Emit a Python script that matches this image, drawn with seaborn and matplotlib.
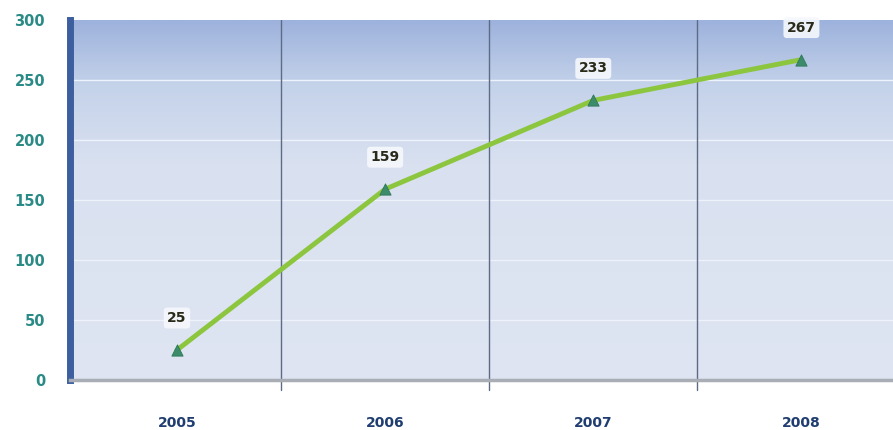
import numpy as np
import pandas as pd
import matplotlib
matplotlib.use("Agg")
import matplotlib.pyplot as plt
import seaborn as sns
from matplotlib.colors import LinearSegmentedColormap

years = ["2005", "2006", "2007", "2008"]
values = [25, 159, 233, 267]
yticks = [0, 50, 100, 150, 200, 250, 300]

df = pd.DataFrame({"pos": np.arange(len(years)), "value": values})

sns.set_theme(style="white")
plt.rcParams['font.family'] = ['DejaVu Sans']

fig = plt.figure(figsize=(8.93, 4.30), dpi=100)
ax = fig.add_axes([70/893, 1 - 380/430, (893-70)/893, 360/430])

xmin, xmax = -0.514, 3.44
ax.set_xlim(xmin, xmax)
ax.set_ylim(0, 300)

# gradient background
grad = np.linspace(0, 1, 256).reshape(-1, 1)
cmap = LinearSegmentedColormap.from_list(
    "bg", [(0.0, "#dfe5f2"), (0.6, "#d9e1f0"), (0.82, "#c4d2ea"), (1.0, "#9db2dc")])
ax.imshow(grad, aspect="auto", cmap=cmap, origin="lower",
          extent=[xmin, xmax, 0, 300], zorder=0)

# horizontal gridlines
for y in yticks[1:-1]:
    ax.axhline(y, color="#eef2fa", lw=1.0, zorder=1)
# vertical separators
for xv in [0.5, 1.5, 2.5]:
    ax.axvline(xv, color="#5c6c85", lw=1.0, zorder=1)
    ax.plot([xv, xv], [-8, 0], color="#5c6c85", lw=1.0, clip_on=False, zorder=1)

sns.lineplot(data=df, x="pos", y="value", ax=ax, color="#8cc63e", lw=3.5,
             zorder=3, legend=False)
sns.scatterplot(data=df, x="pos", y="value", ax=ax, marker="^", s=65,
                color="#3c8c6c", edgecolor="#2f7a5c", zorder=4, legend=False)

for i, v in enumerate(values):
    ax.annotate(str(v), (i, v), xytext=(0, 18), textcoords="offset points",
                ha="center", va="bottom", fontsize=10, fontweight="bold",
                color="#2a2a1a",
                bbox=dict(boxstyle="round,pad=0.25", fc="#f6f8fc", ec="none", alpha=0.9),
                zorder=5)

ax.set_xticks(range(len(years)))
ax.set_xticklabels(years, fontsize=10, fontweight="bold", color="#1f3d70")
ax.set_yticks(yticks)
ax.set_yticklabels([str(t) for t in yticks], fontsize=10.5, fontweight="bold", color="#2a8a86")
ax.tick_params(axis="x", length=0, pad=26)
ax.tick_params(axis="y", length=3, width=1.5, color="#3d5f9f", direction="in", pad=18)

ax.set_xlabel("")
ax.set_ylabel("")

for s in ["top", "right"]:
    ax.spines[s].set_visible(False)
ax.spines["left"].set_color("#3d5f9f")
ax.spines["left"].set_linewidth(5)
ax.spines["bottom"].set_color("#a9adb5")
ax.spines["bottom"].set_linewidth(2.5)

fig.savefig("out.png", dpi=100, facecolor="white")
